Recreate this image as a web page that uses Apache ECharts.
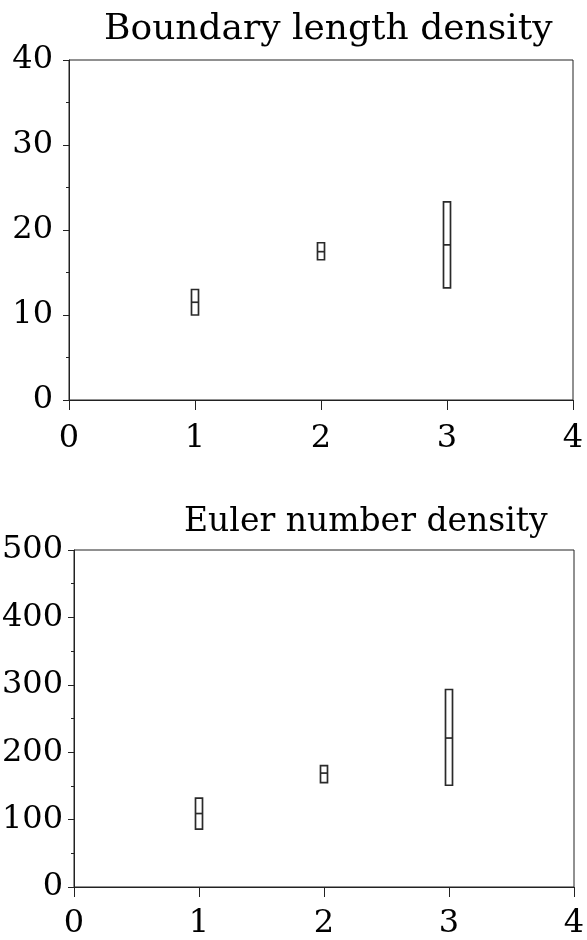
<!DOCTYPE html>
<html>
<head>
<meta charset="utf-8">
<script src="https://cdn.jsdelivr.net/npm/echarts@6/dist/echarts.min.js"></script>
<style>
html,body{margin:0;padding:0;background:#fff;}
#chart{width:587px;height:940px;}
</style>
</head>
<body>
<div id="chart"></div>
<script>
// Data
const categories = [1, 2, 3];
const titles = ['Boundary length density', 'Euler number density'];
const boundaryLower = [10.0, 16.5, 13.2];
const boundaryMedian = [11.5, 17.45, 18.25];
const boundaryUpper = [13.0, 18.5, 23.3];
const eulerLower = [86, 155, 151];
const eulerMedian = [109, 169, 221];
const eulerUpper = [132, 180, 293];
const xTicks = [0, 1, 2, 3, 4];
const boundaryYTicks = [0, 10, 20, 30, 40];
const eulerYTicks = [0, 100, 200, 300, 400, 500];

const FONT = 'DejaVu Serif';
const chart = echarts.init(document.getElementById('chart'), null, {renderer: 'canvas'});

function rows(lo, med, hi) {
  return categories.map((c, i) => [c, lo[i], med[i], hi[i]]);
}

function renderBox(params, api) {
  const x = api.value(0);
  const pLo = api.coord([x, api.value(1)]);
  const pMed = api.coord([x, api.value(2)]);
  const pHi = api.coord([x, api.value(3)]);
  const w = 7;
  const style = {stroke: '#2a2a2a', lineWidth: 1.7, fill: 'none'};
  return {
    type: 'group',
    children: [
      {type: 'rect', shape: {x: pLo[0] - w / 2, y: pHi[1], width: w, height: pLo[1] - pHi[1]}, style: style},
      {type: 'line', shape: {x1: pMed[0] - w / 2, y1: pMed[1], x2: pMed[0] + w / 2, y2: pMed[1]}, style: style}
    ]
  };
}

function xAxis(gridIndex, margin) {
  return {
    type: 'value', gridIndex: gridIndex,
    min: xTicks[0], max: xTicks[xTicks.length - 1], interval: 1,
    axisLine: {show: true, onZero: false, lineStyle: {color: '#222', width: 1}},
    axisTick: {show: true, inside: false, length: 10, lineStyle: {color: '#222', width: 1}},
    axisLabel: {fontFamily: FONT, fontSize: 32, color: '#000', margin: margin},
    splitLine: {show: false}
  };
}
function yAxis(gridIndex, ticks, margin) {
  return {
    type: 'value', gridIndex: gridIndex,
    min: ticks[0], max: ticks[ticks.length - 1], interval: ticks[1] - ticks[0],
    axisLine: {show: true, onZero: false, lineStyle: {color: '#222', width: 1}},
    axisTick: {show: true, inside: false, length: 6, lineStyle: {color: '#222', width: 1}},
    minorTick: {show: true, splitNumber: 2, length: 3, lineStyle: {color: '#222', width: 1}},
    axisLabel: {fontFamily: FONT, fontSize: 32, color: '#000', margin: margin},
    splitLine: {show: false}
  };
}

chart.setOption({
  animation: false,
  backgroundColor: '#fff',
  title: [
    {text: titles[0], left: 104, top: 12, padding: 0,
     textStyle: {fontFamily: FONT, fontSize: 36, fontWeight: 'normal', color: '#000'}},
    {text: titles[1], left: 184, top: 506, padding: 0,
     textStyle: {fontFamily: FONT, fontSize: 33, fontWeight: 'normal', color: '#000'}}
  ],
  grid: [
    {left: 69, right: 14, top: 60, height: 340, show: true, borderColor: '#222', borderWidth: 1,
     backgroundColor: 'transparent', containLabel: false, outerBoundsMode: 'none'},
    {left: 74, right: 13, top: 550, height: 337, show: true, borderColor: '#222', borderWidth: 1,
     backgroundColor: 'transparent', containLabel: false, outerBoundsMode: 'none'}
  ],
  xAxis: [xAxis(0, 23), xAxis(1, 21)],
  yAxis: [yAxis(0, boundaryYTicks, 16), yAxis(1, eulerYTicks, 11)],
  series: [
    {type: 'custom', name: titles[0], xAxisIndex: 0, yAxisIndex: 0, renderItem: renderBox,
     encode: {x: 0, y: [1, 2, 3]}, data: rows(boundaryLower, boundaryMedian, boundaryUpper)},
    {type: 'custom', name: titles[1], xAxisIndex: 1, yAxisIndex: 1, renderItem: renderBox,
     encode: {x: 0, y: [1, 2, 3]}, data: rows(eulerLower, eulerMedian, eulerUpper)}
  ]
});
</script>
</body>
</html>
